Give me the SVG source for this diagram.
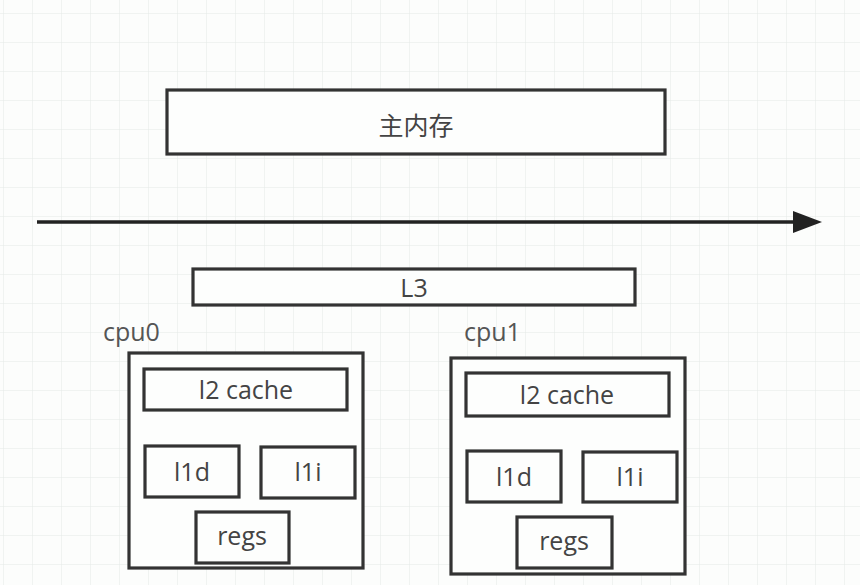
<svg xmlns="http://www.w3.org/2000/svg" width="860" height="585" viewBox="0 0 860 585">
<defs>
<pattern id="grid" x="3" y="13" width="29" height="29" patternUnits="userSpaceOnUse">
<path d="M0 0H29M0 0V29" fill="none" stroke="#e4e9e6" stroke-width="1"/>
</pattern>
<style>
.box{fill:#fdfefd;stroke:#333;stroke-width:3.2}
.t{font-family:"Open Sans","Noto Sans","Noto Sans CJK SC",sans-serif;font-size:25px;fill:#444;text-anchor:middle}
.lbl{font-family:"Open Sans","Noto Sans",sans-serif;font-size:25px;fill:#555}
</style>
</defs>
<rect width="860" height="585" fill="#fcfdfc"/>
<rect width="860" height="585" fill="url(#grid)"/>
<g id="connectors">
<line x1="37" y1="222" x2="796" y2="222" stroke="#222" stroke-width="3.5"/>
<path d="M793 211L822 222L793 233Z" fill="#222"/>
</g>
<g id="mem"><rect class="box" x="167" y="90" width="498" height="64"/><text class="t" x="416" y="135">主内存</text></g>
<g id="l3"><rect class="box" x="193" y="269" width="442" height="36"/><text class="t" x="414" y="297">L3</text></g>
<g id="cpu0">
<text class="lbl" x="103" y="341">cpu0</text>
<rect class="box" x="129" y="353" width="234" height="215"/>
</g>
<g id="cpu0-l2"><rect class="box" x="144" y="369" width="203" height="41"/><text class="t" x="246" y="399">l2 cache</text></g>
<g id="cpu0-l1d"><rect class="box" x="145" y="446" width="94" height="51"/><text class="t" x="192" y="481">l1d</text></g>
<g id="cpu0-l1i"><rect class="box" x="261" y="447" width="94" height="51"/><text class="t" x="308" y="481">l1i</text></g>
<g id="cpu0-regs"><rect class="box" x="196" y="512" width="93" height="51"/><text class="t" x="242" y="545">regs</text></g>
<g id="cpu1">
<text class="lbl" x="464" y="341">cpu1</text>
<rect class="box" x="451" y="358" width="234" height="216"/>
</g>
<g id="cpu1-l2"><rect class="box" x="466" y="373" width="203" height="43"/><text class="t" x="567" y="404">l2 cache</text></g>
<g id="cpu1-l1d"><rect class="box" x="467" y="451" width="94" height="51"/><text class="t" x="514" y="486">l1d</text></g>
<g id="cpu1-l1i"><rect class="box" x="583" y="452" width="94" height="50"/><text class="t" x="630" y="486">l1i</text></g>
<g id="cpu1-regs"><rect class="box" x="517" y="517" width="95" height="51"/><text class="t" x="564" y="550">regs</text></g>
</svg>
